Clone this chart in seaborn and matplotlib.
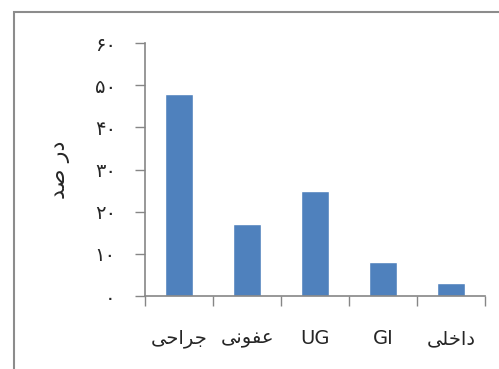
import seaborn as sns
import matplotlib.pyplot as plt
import pandas as pd
from matplotlib.patches import Rectangle

# persian labels in presentation forms, visual order (matplotlib has no shaping)
categories = ["\uFEF0\uFEA3\uFE8D\uFEAE\uFE9F",   # جراحی
              "\uFEF0\uFEE7\uFEEE\uFED4\uFECB",   # عفونی
              "UG", "GI",
              "\uFEF0\uFEE0\uFEA7\uFE8D\uFEA9"]   # داخلی
values = [48, 17, 25, 8, 3.2]
y_ticks = [0, 10, 20, 30, 40, 50, 60]
y_tick_labels = ["\u06F0", "\u06F1\u06F0", "\u06F2\u06F0", "\u06F3\u06F0",
                 "\u06F4\u06F0", "\u06F5\u06F0", "\u06F6\u06F0"]
y_label = "\uFEAA\uFEBB \uFEAD\uFEA9"  # در صد

sns.set_style("white")
plt.rcParams['font.family'] = ['DejaVu Sans']

fig = plt.figure(figsize=(4.99, 3.69), dpi=100)
ax = fig.add_axes([145 / 499, 1 - 296 / 369, 340 / 499, 253 / 369])

df = pd.DataFrame({'cat': categories, 'val': values})
sns.barplot(data=df, x='cat', y='val', color='#4F81BD', saturation=1,
            width=0.4, ax=ax)

ax.set_xlim(-0.5, len(categories) - 0.5)
ax.set_ylim(0, 60)
ax.set_yticks(y_ticks)
ax.set_yticklabels(y_tick_labels, fontsize=14)
ax.set_xticks([i - 0.5 for i in range(len(categories) + 1)])
ax.set_xticklabels([])
ax.set_xticks(range(len(categories)), minor=True)
ax.set_xticklabels(categories, minor=True, fontsize=14)
ax.tick_params(axis='x', which='major', direction='out', length=7,
               color='#868686', width=1, bottom=True)
ax.tick_params(axis='x', which='minor', length=0, pad=24, bottom=True)
ax.tick_params(axis='y', direction='out', length=7, color='#868686',
               width=1, pad=14, left=True)
ax.set_xlabel('')
ax.set_ylabel(y_label, fontsize=16, labelpad=18)

for s in ['top', 'right']:
    ax.spines[s].set_visible(False)
for s in ['left', 'bottom']:
    ax.spines[s].set_color('#868686')
    ax.spines[s].set_linewidth(1.2)

# chart area border like excel
fig.patches.append(Rectangle((14 / 499, -0.1), 1.2, 1 - 12 / 369 + 0.1,
                             transform=fig.transFigure, fill=False,
                             edgecolor='#8c8c8c', linewidth=1.5))

plt.savefig('out.png', dpi=100)
